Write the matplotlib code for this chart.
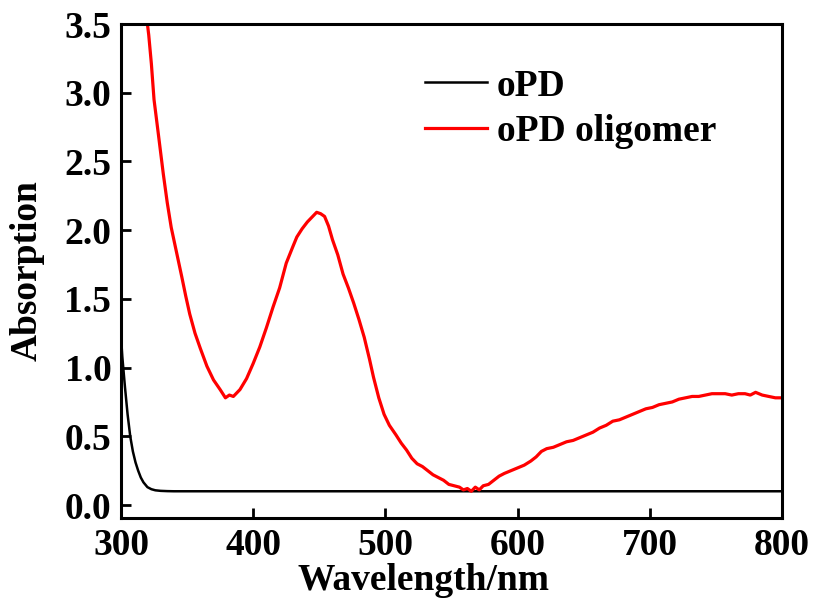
import matplotlib
matplotlib.use("Agg")
import matplotlib.pyplot as plt

# oPD monomer absorption
opd_wl = [300, 301, 303, 305, 307, 309, 311, 313, 315, 317, 320, 323, 326, 330, 335, 340,
          400, 500, 600, 700, 800]
opd_abs = [1.23, 1.08, 0.86, 0.66, 0.50, 0.39, 0.31, 0.25, 0.20, 0.165, 0.13, 0.115, 0.107,
           0.103, 0.101, 0.100, 0.100, 0.100, 0.100, 0.100, 0.100]

# oPD oligomer absorption
olig_wl = [320, 321, 323, 325, 328, 332, 335, 338, 342, 346, 349, 352, 356, 360, 365, 370,
           375, 379, 382, 385, 390, 395, 400, 405, 410, 415, 420, 425, 430, 433, 437, 441,
           445, 448, 451, 454, 457, 460, 464, 468, 472, 476, 480, 484, 488, 491, 495, 499,
           503, 508, 512, 516, 520, 524, 528, 532, 536, 540, 544, 548, 552, 556, 559, 562,
           565, 568, 571, 574, 578, 582, 586, 590, 595, 600, 605, 610, 614, 618, 622, 627,
           632, 637, 642, 647, 652, 657, 662, 667, 672, 677, 682, 687, 692, 697, 702, 707,
           712, 717, 722, 727, 732, 737, 742, 747, 752, 757, 762, 767, 772, 776, 780, 785,
           790, 795, 800]
olig_abs = [3.50, 3.42, 3.21, 2.95, 2.72, 2.41, 2.20, 2.02, 1.84, 1.66, 1.52, 1.39, 1.25,
            1.14, 1.01, 0.91, 0.84, 0.78, 0.80, 0.79, 0.84, 0.92, 1.03, 1.15, 1.29, 1.44,
            1.58, 1.76, 1.88, 1.95, 2.01, 2.06, 2.10, 2.13, 2.12, 2.10, 2.03, 1.93, 1.82,
            1.68, 1.58, 1.47, 1.35, 1.22, 1.06, 0.93, 0.78, 0.66, 0.58, 0.51, 0.45, 0.40,
            0.34, 0.30, 0.28, 0.25, 0.22, 0.20, 0.18, 0.15, 0.14, 0.13, 0.11, 0.12, 0.10,
            0.13, 0.11, 0.14, 0.15, 0.18, 0.21, 0.23, 0.25, 0.27, 0.29, 0.32, 0.35, 0.39,
            0.41, 0.42, 0.44, 0.46, 0.47, 0.49, 0.51, 0.53, 0.56, 0.58, 0.61, 0.62, 0.64,
            0.66, 0.68, 0.70, 0.71, 0.73, 0.74, 0.75, 0.77, 0.78, 0.79, 0.79, 0.80, 0.81,
            0.81, 0.81, 0.80, 0.81, 0.81, 0.80, 0.82, 0.80, 0.79, 0.78, 0.78]

x_ticks = [300, 400, 500, 600, 700, 800]
y_ticks = [0.0, 0.5, 1.0, 1.5, 2.0, 2.5, 3.0, 3.5]

plt.rcParams['font.family'] = ['Liberation Serif', 'DejaVu Serif']
plt.rcParams['font.weight'] = 'bold'

fig = plt.figure(figsize=(8.13, 6.01), dpi=100)
ax = fig.add_axes([0.1488, 0.138, 0.8131, 0.822])

ax.plot(opd_wl, opd_abs, color='black', lw=1.8, label='oPD')
ax.plot(olig_wl, olig_abs, color='#ff0000', lw=2.3, label='oPD oligomer')

ax.set_xlim(300, 800)
ax.set_ylim(-0.095, 3.5)
ax.set_xticks(x_ticks)
ax.set_yticks(y_ticks)
ax.set_xticklabels([str(t) for t in x_ticks], fontsize=27, fontweight='bold')
ax.set_yticklabels(['%.1f' % t for t in y_ticks], fontsize=27, fontweight='bold')
ax.tick_params(direction='in', length=7, width=2, pad=7)
for s in ax.spines.values():
    s.set_linewidth(2.2)

ax.set_xlabel('Wavelength/nm', fontsize=27, fontweight='bold')
ax.xaxis.set_label_coords(0.458, -0.09, transform=ax.transAxes)
ax.xaxis.label.set_verticalalignment('top')
ax.set_ylabel('Absorption', fontsize=27, fontweight='bold', labelpad=14)

ax.legend(loc='upper left', bbox_to_anchor=(0.46, 0.91), frameon=False,
          borderaxespad=0, borderpad=0,
          prop={'size': 27, 'weight': 'bold'}, handlelength=1.65,
          handletextpad=0.27, labelspacing=0.28)

fig.savefig('out.png', dpi=100)
